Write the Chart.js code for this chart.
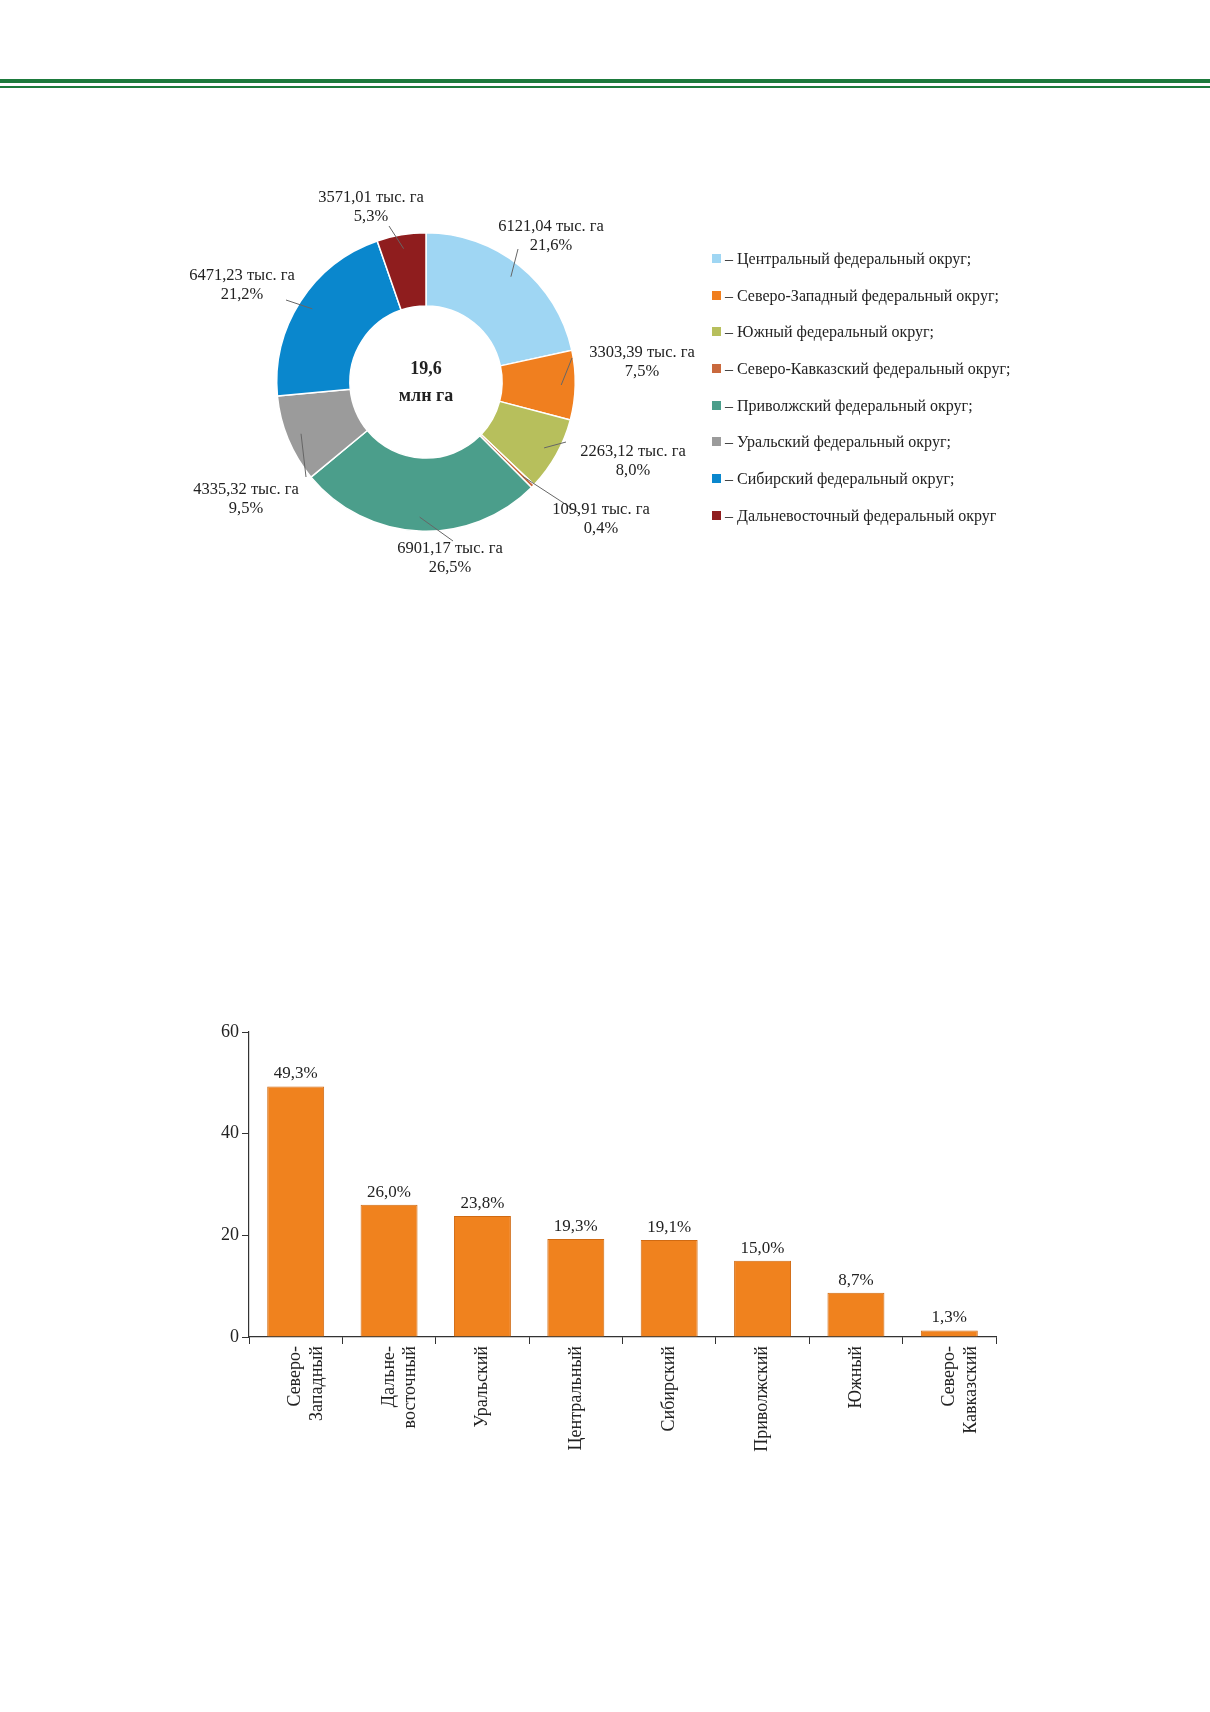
<!DOCTYPE html>
<html>
<head>
<meta charset="utf-8">
<script src="https://cdn.jsdelivr.net/npm/chart.js@4.4.1/dist/chart.umd.min.js"></script>
<style>
  body { margin: 0; background: #fff; font-family: "Liberation Serif", serif; }
  #page { position: relative; width: 1210px; height: 1712px; overflow: hidden; }
  .rule1 { position: absolute; left: 0; top: 79px; width: 1210px; height: 4px; background: #1d7a3c; }
  .rule2 { position: absolute; left: 0; top: 86px; width: 1210px; height: 1.5px; background: #1d7a3c; }
  #legend { position: absolute; left: 712px; top: 248px; font-size: 16px; color: #222; }
  #legend div { height: 36.7px; line-height: 22px; white-space: nowrap; }
  #legend span.box { display: inline-block; width: 9px; height: 9px; margin-right: 4px; vertical-align: 1px; }
</style>
</head>
<body>
<div id="page">
  <div class="rule1"></div>
  <div class="rule2"></div>
  <canvas id="pie" style="position:absolute;left:0;top:0;width:1210px;height:620px"></canvas>
  <div id="legend"></div>
  <canvas id="bar" style="position:absolute;left:150px;top:1000px;width:900px;height:500px"></canvas>
</div>
<script>
// doughnut data (clockwise from top)
var districts = [
  "Центральный федеральный округ;",
  "Северо-Западный федеральный округ;",
  "Южный федеральный округ;",
  "Северо-Кавказский федеральный округ;",
  "Приволжский федеральный округ;",
  "Уральский федеральный округ;",
  "Сибирский федеральный округ;",
  "Дальневосточный федеральный округ"
];
var shares = [21.6, 7.5, 8.0, 0.4, 26.5, 9.5, 21.2, 5.3];
var areaLabels = ["6121,04 тыс. га", "3303,39 тыс. га", "2263,12 тыс. га", "109,91 тыс. га",
                  "6901,17 тыс. га", "4335,32 тыс. га", "6471,23 тыс. га", "3571,01 тыс. га"];
var shareLabels = ["21,6%", "7,5%", "8,0%", "0,4%", "26,5%", "9,5%", "21,2%", "5,3%"];
var sliceColors = ["#9fd6f3", "#f07f1f", "#b7bf5c", "#c9693d", "#4b9e8b", "#9b9b9b", "#0a87cd", "#8f1d1e"];
var centerText = ["19,6", "млн га"];

// label text positions and leader-line starts (layout only)
var labelPos = [[551, 227], [642, 353], [633, 452], [601, 510], [450, 549], [246, 490], [242, 276], [371, 198]];
var leaderStart = [[518, 249], [572, 358], [566, 442], [579, 513], [453, 541], [306, 477], [286, 300], [389, 226]];

// bar data
var barCats = [["Северо-", "Западный"], ["Дальне-", "восточный"], "Уральский", "Центральный",
               "Сибирский", "Приволжский", "Южный", ["Северо-", "Кавказский"]];
var barValues = [49.3, 26.0, 23.8, 19.3, 19.1, 15.0, 8.7, 1.3];
var barLabels = ["49,3%", "26,0%", "23,8%", "19,3%", "19,1%", "15,0%", "8,7%", "1,3%"];
var yTicks = [0, 20, 40, 60];

var serif = "'Liberation Serif', 'DejaVu Serif', serif";

var legendBox = document.getElementById("legend");
districts.forEach(function (d, i) {
  var row = document.createElement("div");
  row.innerHTML = '<span class="box" style="background:' + sliceColors[i] + '"></span>– ' + d;
  legendBox.appendChild(row);
});

var pieLabels = {
  id: "pieLabels",
  afterDraw: function (chart) {
    var ctx = chart.ctx;
    var arcs = chart.getDatasetMeta(0).data;
    ctx.save();
    ctx.strokeStyle = "#666";
    ctx.lineWidth = 1;
    arcs.forEach(function (arc, i) {
      var p = arc.getProps(["x", "y", "startAngle", "endAngle", "outerRadius", "innerRadius"], true);
      var mid = (p.startAngle + p.endAngle) / 2;
      var r = p.outerRadius - 14;
      ctx.beginPath();
      ctx.moveTo(leaderStart[i][0], leaderStart[i][1]);
      ctx.lineTo(p.x + Math.cos(mid) * r, p.y + Math.sin(mid) * r);
      ctx.stroke();
    });
    ctx.fillStyle = "#222";
    ctx.font = "16.5px " + serif;
    ctx.textAlign = "center";
    ctx.textBaseline = "middle";
    labelPos.forEach(function (pos, i) {
      ctx.fillText(areaLabels[i], pos[0], pos[1]);
      ctx.fillText(shareLabels[i], pos[0], pos[1] + 19);
    });
    var c = arcs[0];
    ctx.font = "bold 18px " + serif;
    ctx.fillText(centerText[0], c.x, c.y - 13);
    ctx.fillText(centerText[1], c.x, c.y + 14);
    ctx.restore();
  }
};

new Chart(document.getElementById("pie"), {
  type: "doughnut",
  data: {
    labels: districts,
    datasets: [{ data: shares, backgroundColor: sliceColors, borderColor: "#fff", borderWidth: 1.5 }]
  },
  options: {
    responsive: false,
    animation: false,
    cutout: "51%",
    layout: { padding: { left: 276, right: 634, top: 232, bottom: 88 } },
    plugins: { legend: { display: false }, tooltip: { enabled: false } }
  },
  plugins: [pieLabels]
});

var barValueLabels = {
  id: "barValueLabels",
  afterDatasetsDraw: function (chart) {
    var ctx = chart.ctx;
    ctx.save();
    ctx.fillStyle = "#222";
    ctx.font = "17px " + serif;
    ctx.textAlign = "center";
    ctx.textBaseline = "bottom";
    chart.getDatasetMeta(0).data.forEach(function (bar, i) {
      ctx.fillText(barLabels[i], bar.x, bar.y - 4);
    });
    ctx.restore();
  }
};

new Chart(document.getElementById("bar"), {
  type: "bar",
  data: {
    labels: barCats,
    datasets: [{ data: barValues, backgroundColor: "#f0821e", borderColor: "#d06a12", borderWidth: 1,
                 categoryPercentage: 1, barPercentage: 0.61 }]
  },
  options: {
    responsive: false,
    animation: false,
    layout: { padding: { left: 0, right: 54, top: 32, bottom: 0 } },
    plugins: { legend: { display: false }, tooltip: { enabled: false } },
    scales: {
      x: {
        afterFit: function (s) { s.height = 163; },
        border: { color: "#333", width: 1.2 },
        grid: { offset: true, drawOnChartArea: false, tickLength: 7, color: "#333" },
        ticks: { minRotation: 90, maxRotation: 90, color: "#222", font: { family: serif, size: 18 }, padding: 2 }
      },
      y: {
        min: 0, max: 60,
        afterFit: function (s) { s.width = 99; },
        afterBuildTicks: function (s) { s.ticks = yTicks.map(function (v) { return { value: v }; }); },
        border: { color: "#333", width: 1.2 },
        grid: { drawOnChartArea: false, tickLength: 7, color: "#333" },
        ticks: { color: "#222", font: { family: serif, size: 18 }, padding: 3 }
      }
    }
  },
  plugins: [barValueLabels]
});
</script>
</body>
</html>
